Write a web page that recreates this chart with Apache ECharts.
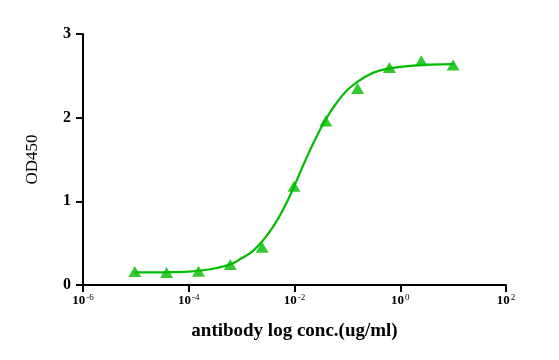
<!DOCTYPE html>
<html>
<head>
<meta charset="utf-8">
<script src="https://cdn.jsdelivr.net/npm/echarts@6/dist/echarts.min.js"></script>
<style>html,body{margin:0;padding:0;background:#fff}#c{width:559px;height:360px}</style>
</head>
<body>
<div id="c"></div>
<script>
// Measured points (4-fold dilution series, ug/ml)
var conc = [9.54e-6, 3.81e-5, 1.53e-4, 6.10e-4, 2.44e-3, 9.77e-3, 3.91e-2, 0.156, 0.625, 2.5, 10];
var od = [0.16, 0.15, 0.165, 0.245, 0.45, 1.18, 1.96, 2.35, 2.60, 2.68, 2.63];
// Fitted curve
var curveX = [9.5e-6, 3.16e-5, 1e-4, 3.16e-4, 6.3e-4, 1e-3, 1.58e-3, 2.51e-3, 3.98e-3, 6.31e-3, 1e-2, 1.58e-2, 2.51e-2, 3.98e-2, 6.31e-2, 0.1, 0.158, 0.251, 0.398, 0.631, 1.58, 3.98, 10.2];
var curveY = [0.15, 0.152, 0.16, 0.20, 0.25, 0.32, 0.40, 0.53, 0.70, 0.92, 1.19, 1.48, 1.75, 1.99, 2.18, 2.33, 2.43, 2.51, 2.56, 2.59, 2.62, 2.635, 2.64];
var yTicks = [0, 1, 2, 3];
var xTickExp = [-6, -4, -2, 0, 2];

var green = '#00bb00';
var chart = echarts.init(document.getElementById('c'));
var pts = conc.map(function (c, i) { return [c, od[i]]; });
var curve = curveX.map(function (c, i) { return [c, curveY[i]]; });
var serif = '"Liberation Serif", "Times New Roman", serif';
chart.setOption({
  animation: false,
  grid: { left: 83, right: 53, top: 34, bottom: 75 },
  xAxis: {
    type: 'log', logBase: 10,
    min: Math.pow(10, xTickExp[0]), max: Math.pow(10, xTickExp[xTickExp.length - 1]),
    interval: 2,
    name: 'antibody log conc.(ug/ml)', nameLocation: 'middle', nameGap: 37,
    nameTextStyle: { fontFamily: serif, fontWeight: 'bold', fontSize: 19, color: '#000' },
    axisLine: { lineStyle: { color: '#000', width: 2 } },
    axisTick: { length: 7, lineStyle: { color: '#000', width: 2 } },
    minorTick: { show: false },
    splitLine: { show: false },
    axisLabel: {
      margin: 8,
      formatter: function (v) {
        var e = Math.round(Math.log10(v));
        return '{b|10}{s|' + e + '}';
      },
      rich: {
        b: { fontFamily: serif, fontWeight: 'bold', fontSize: 13, color: '#000' },
        s: { fontFamily: serif, fontSize: 9, color: '#000', padding: [0, 0, 7, 1] }
      }
    }
  },
  yAxis: {
    type: 'value', min: yTicks[0], max: yTicks[yTicks.length - 1], interval: 1,
    name: 'OD450', nameLocation: 'middle', nameGap: 42,
    nameTextStyle: { fontFamily: serif, fontSize: 17, color: '#000' },
    axisLine: { show: true, lineStyle: { color: '#000', width: 2 } },
    axisTick: { show: true, length: 7, lineStyle: { color: '#000', width: 2 } },
    splitLine: { show: false },
    axisLabel: { margin: 12, fontFamily: serif, fontWeight: 'bold', fontSize: 16, color: '#000' }
  },
  series: [
    {
      type: 'line', data: curve, smooth: 0.5, showSymbol: false, symbol: 'none',
      lineStyle: { color: green, width: 2.2 }, z: 2
    },
    {
      type: 'scatter', data: pts, symbol: 'triangle', symbolSize: [13, 11],
      itemStyle: { color: green }, z: 3
    }
  ]
});
</script>
</body>
</html>
